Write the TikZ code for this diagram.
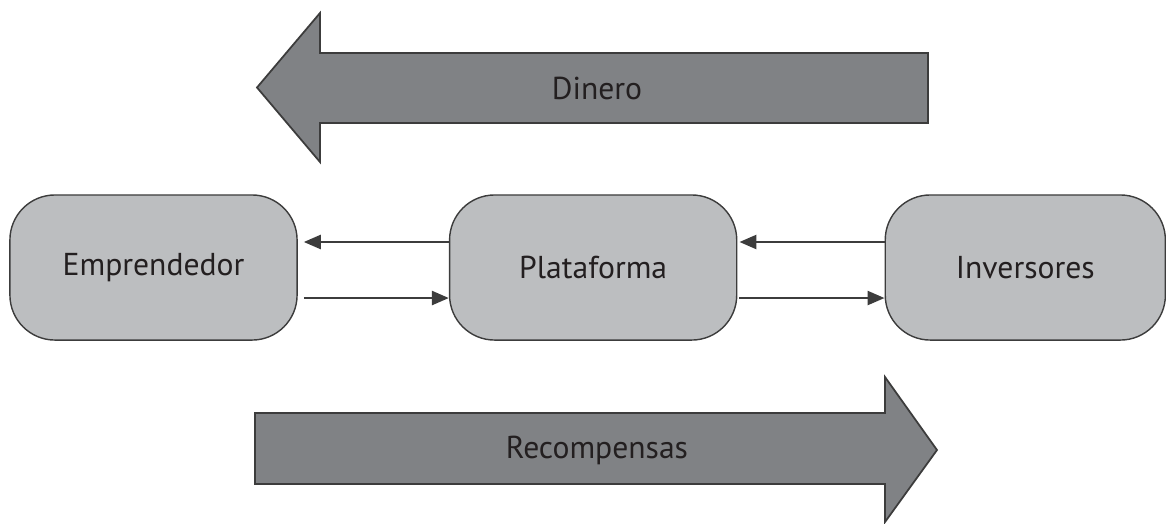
\documentclass[tikz,border=0pt]{standalone}
\usepackage{fontspec}
\setmainfont{PT Sans}
\usepackage{xcolor}
\usetikzlibrary{arrows.meta,positioning}
\definecolor{boxgray}{HTML}{BCBEC0}
\definecolor{arrowgray}{HTML}{808285}
\definecolor{edgegray}{HTML}{3C3C3C}
\definecolor{textdark}{HTML}{231F20}

\begin{document}
\begin{tikzpicture}[x=0.01cm,y=-0.01cm,>={Triangle[length=0.17cm,width=0.14cm]},
  agent/.style={draw=edgegray,fill=boxgray,rounded corners=0.45cm,
    minimum width=2.87cm,minimum height=1.45cm,inner sep=0pt,
    text=textdark,font=\fontsize{9}{11}\selectfont},
  flow/.style={draw=edgegray,fill=arrowgray,line width=0.5pt},
  flowtext/.style={text=textdark,font=\fontsize{9}{11}\selectfont},
  link/.style={->,draw=edgegray,line width=0.7pt}]
  \useasboundingbox (0,0) rectangle (1166,523);

  % Dinero
  \draw[flow] (928,53) -- (320,53) -- (320,13) -- (257,87.5) -- (320,162)
    -- (320,123) -- (928,123) -- cycle;
  \node[flowtext] (dinero) at (597,88) {Dinero};

  % Agents
  \node[agent] (empr) at (153.5,267.5) {Emprendedor};
  \node[agent,right=1.51cm of empr] (plat) {Plataforma};
  \node[agent,minimum width=2.8cm,right=1.47cm of plat] (inv) {Inversores};

  \draw[link,shorten >=0.06cm] ([yshift=0.255cm]plat.west) -- ([yshift=0.255cm]empr.east);
  \draw[link,shorten <=0.06cm] ([yshift=-0.305cm]empr.east) -- ([yshift=-0.305cm]plat.west);
  \draw[link,shorten >=0.02cm] ([yshift=0.255cm]inv.west) -- ([yshift=0.255cm]plat.east);
  \draw[link,shorten <=0.02cm] ([yshift=-0.305cm]plat.east) -- ([yshift=-0.305cm]inv.west);

  % Recompensas
  \draw[flow] (255,413) -- (885,413) -- (885,377) -- (937,450) -- (885,522)
    -- (885,484) -- (255,484) -- cycle;
  \node[flowtext] (recomp) at (597,450) {Recompensas};
\end{tikzpicture}
\end{document}
